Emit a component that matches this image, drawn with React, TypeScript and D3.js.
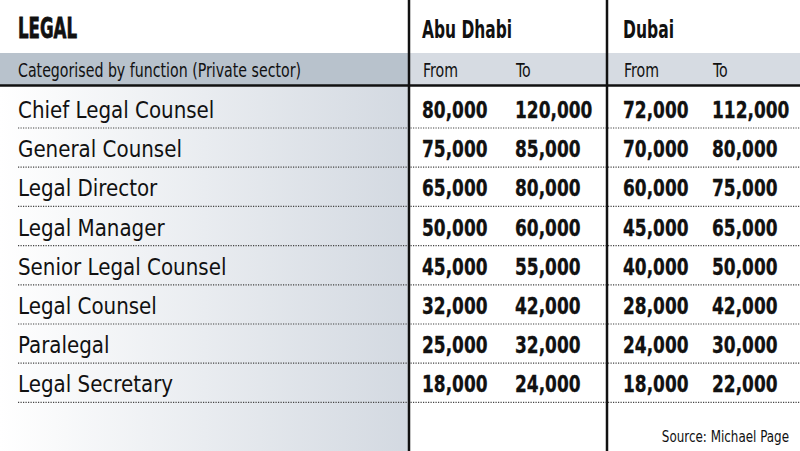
import { useEffect, useRef } from 'react';
import * as d3 from 'd3';

const roles = [
  'Chief Legal Counsel',
  'General Counsel',
  'Legal Director',
  'Legal Manager',
  'Senior Legal Counsel',
  'Legal Counsel',
  'Paralegal',
  'Legal Secretary',
];
const abuDhabiFrom = [80000, 75000, 65000, 50000, 45000, 32000, 25000, 18000];
const abuDhabiTo = [120000, 85000, 80000, 60000, 55000, 42000, 32000, 24000];
const dubaiFrom = [72000, 70000, 60000, 45000, 40000, 28000, 24000, 18000];
const dubaiTo = [112000, 80000, 75000, 65000, 50000, 42000, 30000, 22000];
const cities = ['Abu Dhabi', 'Dubai'];
const subHeads = ['From', 'To', 'From', 'To'];

const cond = '"DejaVu Sans Condensed", "Liberation Sans Narrow", sans-serif';

const App = () => {
  const svgRef = useRef<SVGSVGElement>(null);

  useEffect(() => {
    document.body.style.margin = '0';
    const width = 800;
    const height = 451;
    const divider1 = 409;
    const divider2 = 607;

    const svg = d3.select(svgRef.current);
    svg.selectAll('*').remove();
    svg.attr('width', width).attr('height', height);

    const defs = svg.append('defs');
    const grad = defs.append('linearGradient').attr('id', 'leftGrad')
      .attr('x1', '0%').attr('x2', '100%').attr('y1', '0%').attr('y2', '0%');
    grad.append('stop').attr('offset', '0%').attr('stop-color', '#ffffff');
    grad.append('stop').attr('offset', '100%').attr('stop-color', '#d3d9e1');

    const y = d3.scaleBand<string>()
      .domain(roles)
      .range([88.8, 402.4]);

    const cols = ['abuFrom', 'abuTo', 'dubaiFrom', 'dubaiTo'];
    const x = d3.scaleOrdinal<string, number>()
      .domain(cols)
      .range([422, 515, 623, 712]);
    const series = [abuDhabiFrom, abuDhabiTo, dubaiFrom, dubaiTo];
    const fmt = d3.format(',');

    // squeeze text horizontally (no narrow fonts installed)
    const place = (tx: number, ty: number, sx: number) => `translate(${tx},${ty}) scale(${sx},1)`;

    // backgrounds
    svg.append('rect').attr('x', 0).attr('y', 0).attr('width', width).attr('height', height).attr('fill', '#fff');
    svg.append('rect').attr('x', 0).attr('y', 85).attr('width', divider1).attr('height', height - 85)
      .attr('fill', 'url(#leftGrad)');
    svg.append('rect').attr('x', 0).attr('y', 53).attr('width', divider1).attr('height', 32).attr('fill', '#b8c2cc');
    svg.append('rect').attr('x', divider1).attr('y', 53).attr('width', width - divider1).attr('height', 32).attr('fill', '#d6dbe2');

    // dotted separators
    svg.append('g')
      .selectAll('line')
      .data(roles)
      .join('line')
      .attr('x1', 18)
      .attr('x2', width)
      .attr('y1', d => (y(d) ?? 0) + y.bandwidth())
      .attr('y2', d => (y(d) ?? 0) + y.bandwidth())
      .attr('stroke', '#444')
      .attr('stroke-width', 1.2)
      .attr('stroke-dasharray', '1.2,1.3');

    // rules
    svg.append('line').attr('x1', 0).attr('x2', width).attr('y1', 85.5).attr('y2', 85.5)
      .attr('stroke', '#111').attr('stroke-width', 2.5);
    [divider1, divider2].forEach(dx => {
      svg.append('line').attr('x1', dx).attr('x2', dx).attr('y1', 0).attr('y2', height)
        .attr('stroke', '#111').attr('stroke-width', 2.5);
    });

    // titles
    svg.append('text').attr('x', 18).attr('y', 38)
      .attr('font-family', cond).attr('font-weight', 'bold').attr('font-size', 29)
      .attr('textLength', 59).attr('lengthAdjust', 'spacingAndGlyphs')
      .attr('stroke', '#111').attr('stroke-width', 0.8)
      .attr('fill', '#111').text('LEGAL');

    svg.append('g')
      .selectAll('text')
      .data(cities)
      .join('text')
      .attr('x', (d, i) => (i === 0 ? 422 : 623))
      .attr('y', 38)
      .attr('font-family', cond)
      .attr('font-weight', 'bold')
      .attr('font-size', 25)
      .attr('textLength', (d, i) => (i === 0 ? 90 : 51))
      .attr('lengthAdjust', 'spacingAndGlyphs')
      .attr('fill', '#111')
      .text(d => d);

    svg.append('text')
      .attr('transform', place(18, 77, 0.83))
      .attr('font-family', cond).attr('font-size', 19).attr('fill', '#111')
      .text('Categorised by function (Private sector)');

    svg.append('g')
      .selectAll('text')
      .data(subHeads)
      .join('text')
      .attr('transform', (d, i) => place(x(cols[i]) + 1, 77, 0.83))
      .attr('font-family', cond)
      .attr('font-size', 19)
      .attr('fill', '#111')
      .text(d => d);

    // row labels
    svg.append('g')
      .selectAll('text')
      .data(roles)
      .join('text')
      .attr('transform', d => place(18, (y(d) ?? 0) + 29.2, 0.94))
      .attr('font-family', cond)
      .attr('font-size', 23.5)
      .attr('fill', '#111')
      .text(d => d);

    // values
    series.forEach((vals, ci) => {
      svg.append('g')
        .selectAll('text')
        .data(vals)
        .join('text')
        .attr('transform', (d, i) => place(x(cols[ci]), (y(roles[i]) ?? 0) + 29.2, 0.84))
        .attr('font-family', cond)
        .attr('font-weight', 'bold')
        .attr('font-size', 22.5)
        .attr('stroke', '#111')
        .attr('stroke-width', 0.3)
        .attr('fill', '#111')
        .text(d => fmt(d));
    });

    svg.append('text')
      .attr('transform', place(789, 442, 0.83))
      .attr('text-anchor', 'end')
      .attr('font-family', cond).attr('font-size', 16).attr('fill', '#111')
      .text('Source: Michael Page');
  }, []);

  return <svg ref={svgRef} style={{ display: 'block' }}></svg>;
};

export default App;
